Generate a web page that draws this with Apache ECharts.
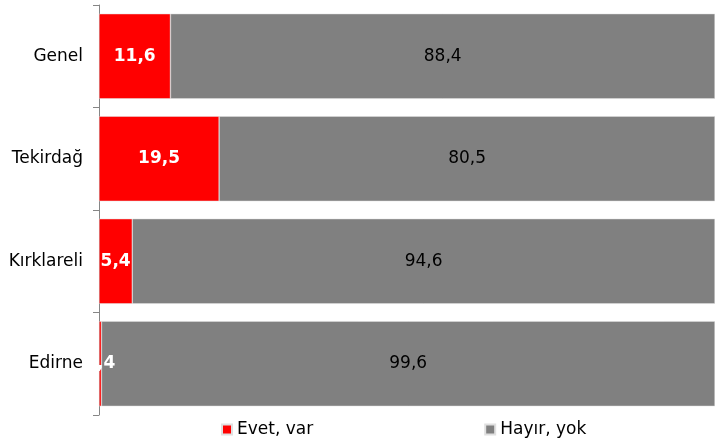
<!DOCTYPE html>
<html><head><meta charset="utf-8">
<script src="https://cdn.jsdelivr.net/npm/echarts@6/dist/echarts.min.js"></script>
<style>html,body{margin:0;padding:0;background:#fff}#c{width:715px;height:443px}</style>
</head><body><div id="c"></div>
<script>
const categories = ['Genel', 'Tekirdağ', 'Kırklareli', 'Edirne'];
const evet = [11.6, 19.5, 5.4, 0.4];
const hayir = [88.4, 80.5, 94.6, 99.6];
const seriesNames = ['Evet, var', 'Hayır, yok'];

const fmt = p => String(p.value).replace('.', ',');
const chart = echarts.init(document.getElementById('c'), null, {renderer: 'canvas'});
chart.setOption({
  animation: false,
  textStyle: {fontFamily: 'DejaVu Sans'},
  grid: {left: 99, right: 0, top: 5, bottom: 28},
  legend: {
    top: 421, left: 221, itemGap: 171, itemWidth: 10, itemHeight: 10,
    icon: 'rect', padding: 0,
    textStyle: {fontSize: 17, color: '#000', fontFamily: 'DejaVu Sans'},
    data: seriesNames
  },
  xAxis: {type: 'value', min: 0, max: 100, show: false},
  yAxis: {
    type: 'category', data: categories, inverse: true,
    axisLine: {lineStyle: {color: '#868686'}},
    axisTick: {show: true, length: 6, lineStyle: {color: '#868686'}},
    axisLabel: {fontSize: 17, color: '#000', margin: 16, fontFamily: 'DejaVu Sans'}
  },
  series: [
    {
      name: seriesNames[0], type: 'bar', stack: 't', data: evet, barWidth: '83%',
      itemStyle: {color: '#ff0000', borderColor: '#e0e0e0', borderWidth: 0.5},
      label: {show: true, position: 'inside', formatter: fmt, color: '#fff', fontWeight: 'bold', fontSize: 17, fontFamily: 'DejaVu Sans'}
    },
    {
      name: seriesNames[1], type: 'bar', stack: 't', data: hayir,
      itemStyle: {color: '#808080', borderColor: '#e0e0e0', borderWidth: 0.5},
      label: {show: true, position: 'inside', formatter: fmt, color: '#000', fontSize: 17, fontFamily: 'DejaVu Sans'}
    }
  ]
});
</script></body></html>
